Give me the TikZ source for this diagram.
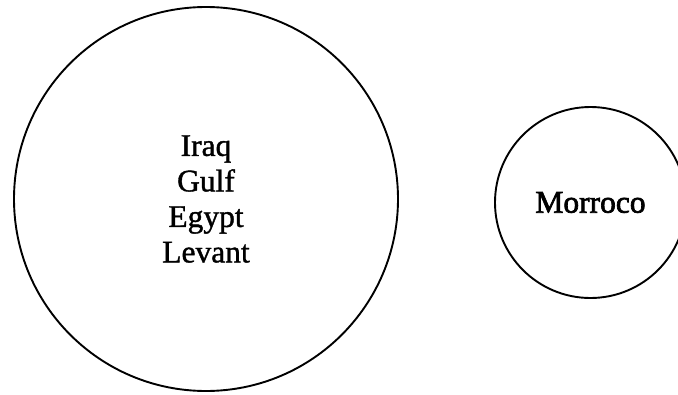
\documentclass[tikz,border=0pt]{standalone}
\usepackage{fontspec}
\setmainfont{Liberation Serif}
\newfontfamily\heavyserif[FakeBold=1.2]{Liberation Serif}
\newfontfamily\heavierserif[FakeBold=2.2]{Liberation Serif}
\begin{document}
\begin{tikzpicture}[x=1pt,y=-1pt,
  region/.style={draw=black,line width=1.9pt,circle,inner sep=0pt,align=center}]
  \useasboundingbox (0,0) rectangle (678,394);
  \clip (0,0) rectangle (678,394);
  \node[region,minimum size=384pt,font=\heavyserif\fontsize{31.5}{35.5}\selectfont]
    (east) at (206,199) {Iraq\\Gulf\\Egypt\\Levant};
  \node[region,minimum size=191pt,font=\heavierserif\fontsize{31.5}{35.5}\selectfont]
    (west) at (590.5,202.5) {Morroco};
\end{tikzpicture}
\end{document}
